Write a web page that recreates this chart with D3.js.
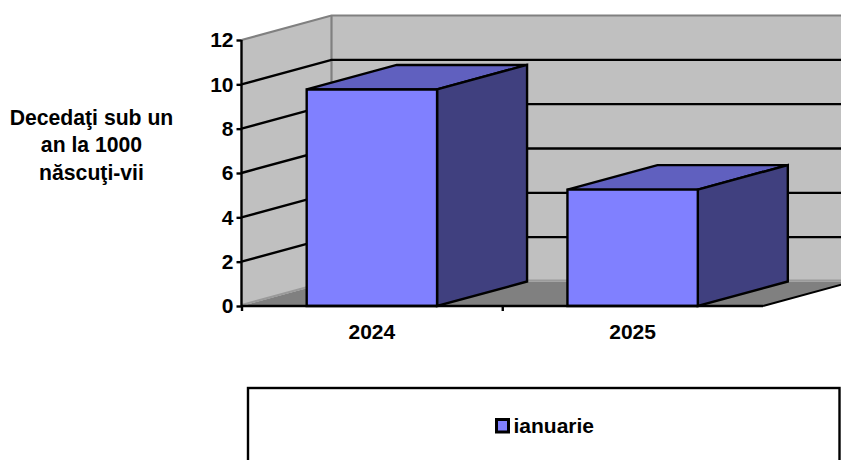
<!DOCTYPE html>
<html><head><meta charset="utf-8">
<script src="https://cdn.jsdelivr.net/npm/d3@7"></script>
<style>
html,body{margin:0;padding:0;background:#fff}
svg{display:block}
text{font-family:"Liberation Sans",Arial,sans-serif;font-weight:bold;fill:#000}
</style></head><body><svg id="c" width="841" height="460"></svg>
<script>
const categories=["2024","2025"];
const values=[9.77,5.25];
const yTicks=[0,2,4,6,8,10,12];
const seriesName="ianuarie";
const yTitle=["Decedaţi sub un","an la 1000","născuţi-vii"];

const svg=d3.select("#c");
const W=841;
const fs=21;
const y=d3.scaleLinear().domain([0,12]).range([306,40]);
const x=d3.scaleBand().domain(categories).range([241.5,763]).paddingInner(0.5).paddingOuter(0.25);
const DX=90,DY=-24.5;
const line=d3.line();
const poly=(pts,fill,stroke,sw)=>svg.append("path").attr("d",line(pts)+"Z").attr("fill",fill).attr("stroke",stroke).attr("stroke-width",sw).attr("stroke-linejoin","miter");

const x0=x.range()[0],x1=x.range()[1];
poly([[x0,y(0)],[x0+DX,y(0)+DY],[x0+DX,y(12)+DY],[x0,y(12)]],"#C0C0C0","none",0);
poly([[x0+DX,y(0)+DY],[W+5,y(0)+DY],[W+5,y(12)+DY],[x0+DX,y(12)+DY]],"#C0C0C0","none",0);
poly([[x0,y(0)],[x1,y(0)],[x1+DX,y(0)+DY],[x0+DX,y(0)+DY]],"#808080","none",0);
const pl=(pts,c,w)=>svg.append("path").attr("d",line(pts)).attr("fill","none").attr("stroke",c).attr("stroke-width",w);
pl([[x0,y(12)],[x0+DX,y(12)+DY],[W+5,y(12)+DY]],"#808080",2.2);
pl([[x0+DX,y(12)+DY],[x0+DX,y(0)+DY]],"#808080",2.2);
pl([[x0,y(0)-1],[x0+DX,y(0)+DY-1],[W+5,y(0)+DY-1]],"#9A9A9A",2);
yTicks.filter(t=>t>0&&t<12).forEach(t=>pl([[x0,y(t)],[x0+DX,y(t)+DY],[W+5,y(t)+DY]],"#000",2.4));
pl([[x1,y(0)],[x1+DX,y(0)+DY]],"#000",2);

categories.forEach((c,i)=>{
  const l=x(c),r=l+x.bandwidth(),t=y(values[i]),b=y(0);
  poly([[l,t],[r,t],[r+DX,t+DY],[l+DX,t+DY]],"#6060BF","#000",2.4);
  poly([[r,t],[r+DX,t+DY],[r+DX,b+DY],[r,b]],"#40407F","#000",2.4);
  poly([[l,t],[r,t],[r,b],[l,b]],"#8080FF","#000",2.4);
});

const ga=svg.append("g").attr("transform",`translate(${x0},0)`)
  .call(d3.axisLeft(y).tickValues(yTicks).tickSize(5).tickPadding(3).tickFormat(d3.format("d")));
const gb=svg.append("g").attr("transform",`translate(0,${y(0)})`)
  .call(d3.axisBottom(d3.scalePoint().domain([0,1]).range([x0,(x0+x1)/2])).tickSize(5).tickFormat(""));
[ga,gb].forEach(g=>{g.selectAll("line").attr("stroke","#000").attr("stroke-width",2.4);g.select(".domain").attr("stroke","#000").attr("stroke-width",2.4);});
ga.select(".domain").attr("d",line([[0,y(12)],[0,y(0)]]));
gb.select(".domain").attr("d",line([[x0,0],[x1,0]]));
ga.selectAll("text").attr("font-size",fs).attr("font-family",null).attr("fill","#000");
categories.forEach(c=>svg.append("text").attr("x",x(c)+x.bandwidth()/2).attr("y",339).attr("text-anchor","middle").attr("font-size",fs).text(c));

yTitle.forEach((s,i)=>svg.append("text").attr("x",91.5).attr("y",124.5+i*27.5).attr("text-anchor","middle").attr("font-size",21.2).text(s));

svg.append("rect").attr("x",248).attr("y",388).attr("width",591.5).attr("height",80).attr("fill","#fff").attr("stroke","#000").attr("stroke-width",2.4);
svg.append("rect").attr("x",496.5).attr("y",419.5).attr("width",12).attr("height",12.5).attr("fill","#8080FF").attr("stroke","#000").attr("stroke-width",3);
svg.append("text").attr("x",513.5).attr("y",433).attr("font-size",fs).text(seriesName);
</script></body></html>
